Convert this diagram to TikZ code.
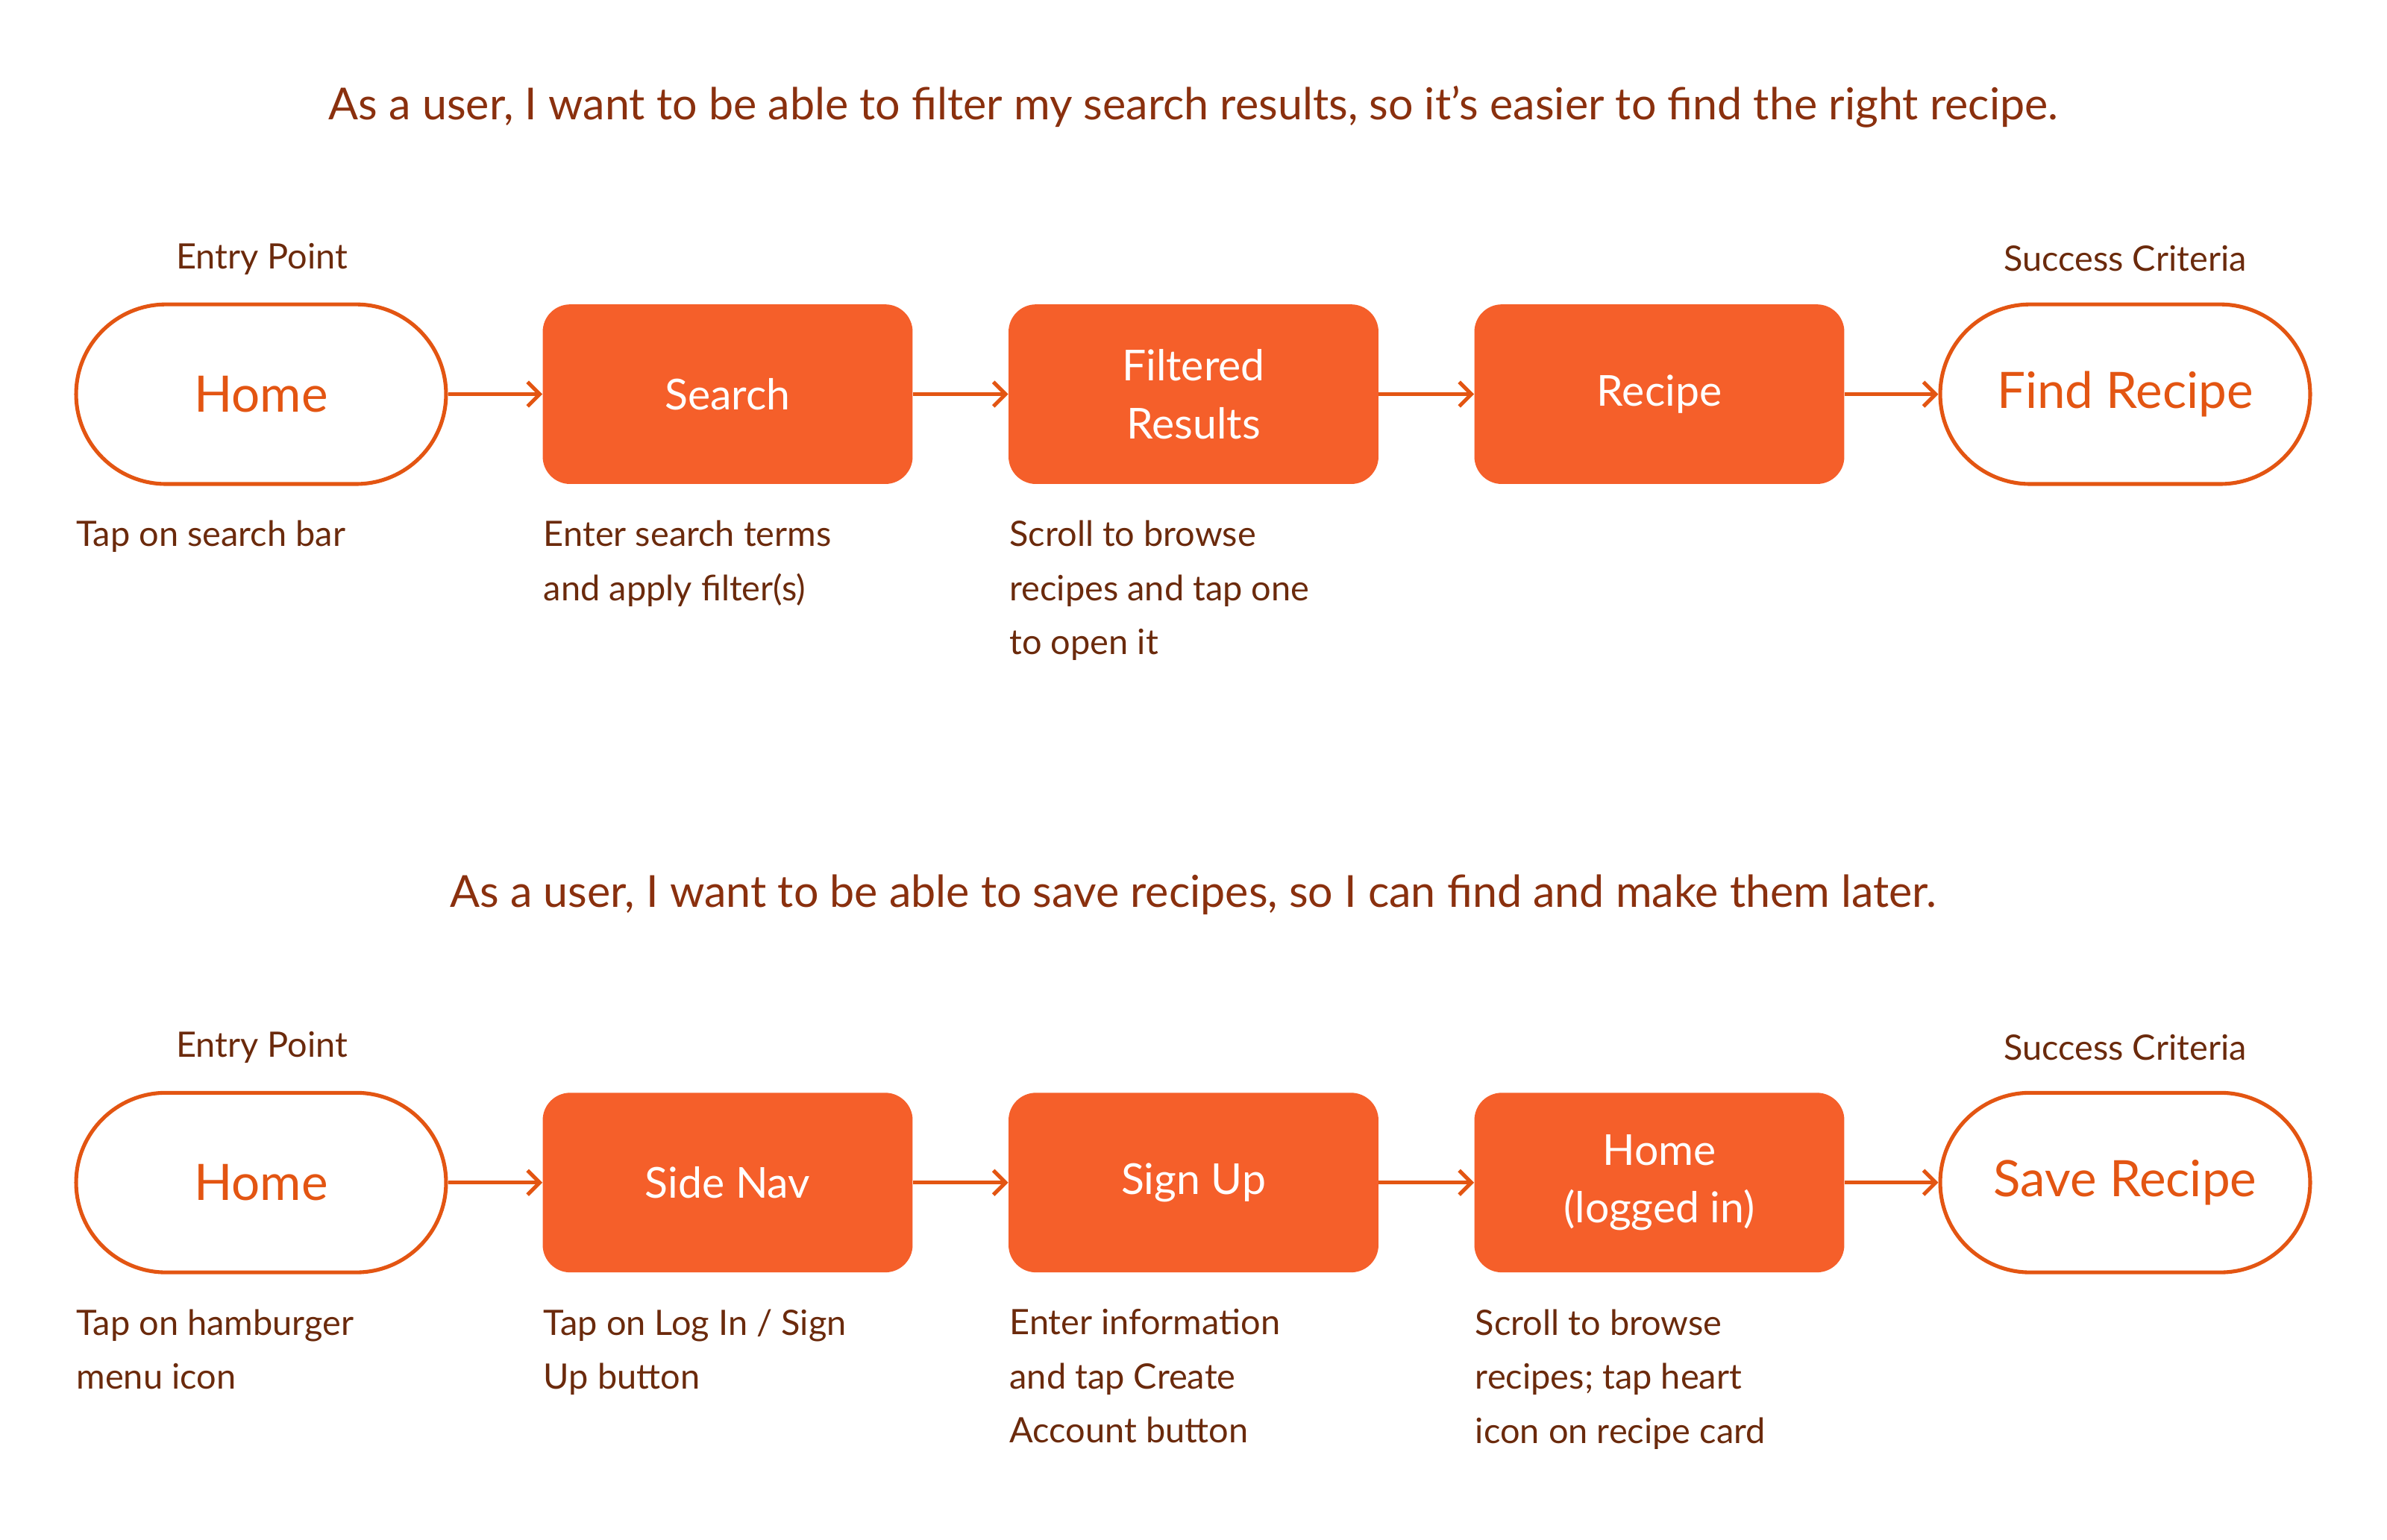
\documentclass[tikz,border=0pt]{standalone}
\usepackage{fontspec}
\setmainfont{Lato}
\usetikzlibrary{arrows.meta}
\definecolor{org}{HTML}{F55F2A}
\definecolor{orgline}{HTML}{E35512}
\definecolor{brn}{HTML}{6B2A0C}
\definecolor{ttl}{HTML}{8A300E}
\tikzset{
 pill/.style={draw=orgline,line width=2.5pt,fill=white,rounded corners=59pt,minimum width=243pt,minimum height=118pt,text=orgline,font=\fontsize{33}{38}\selectfont},
 stepbox/.style={fill=org,rounded corners=18pt,minimum width=243pt,minimum height=118pt,text=white,font=\fontsize{28}{38}\selectfont,align=center},
 desc/.style={anchor=north west,text=brn,font=\fontsize{23}{35.5}\selectfont,align=left,inner sep=0pt},
 lab/.style={text=brn,font=\fontsize{23}{28}\selectfont},
 ttlst/.style={text=ttl,font=\fontsize{29}{34}\selectfont},
 arr/.style={draw=orgline,line width=2.5pt,-{Straight Barb[length=8pt,width=16pt,line width=2.5pt]}}
}
\begin{document}
\begin{tikzpicture}[x=1pt,y=-1pt]
\useasboundingbox (0,0) rectangle (1568,1011.4);
\node[ttlst] (t1) at (784,70) {As a user, I want to be able to filter my search results, so it’s easier to find the right recipe.};
\node[lab] (e1) at (172,170) {Entry Point};
\node[lab] (s1) at (1396,170) {Success Criteria};
\node[pill] (a1) at (171.5,259) {Home};
\node[stepbox] (a2) at (478,259) {Search};
\node[stepbox] (a3) at (784,259) {Filtered\\Results};
\node[stepbox] (a4) at (1090,259) {Recipe};
\node[pill] (a5) at (1396,259) {Find Recipe};
\foreach \i/\j in {a1/a2,a2/a3,a3/a4,a4/a5} \draw[arr] (\i) -- (\j);
\node[desc] (d1) at (50,342) {Tap on search bar};
\node[desc] (d2) at (357,342) {Enter search terms\\and apply filter(s)};
\node[desc] (d3) at (663,342) {Scroll to browse\\recipes and tap one\\to open it};
\node[ttlst] (t2) at (784,588) {As a user, I want to be able to save recipes, so I can find and make them later.};
\node[lab] (e2) at (172,688) {Entry Point};
\node[lab] (s2) at (1396,688) {Success Criteria};
\node[pill] (b1) at (171.5,777) {Home};
\node[stepbox] (b2) at (478,777) {Side Nav};
\node[stepbox] (b3) at (784,777) {Sign Up};
\node[stepbox] (b4) at (1090,777) {Home\\(logged in)};
\node[pill] (b5) at (1396,777) {Save Recipe};
\foreach \i/\j in {b1/b2,b2/b3,b3/b4,b4/b5} \draw[arr] (\i) -- (\j);
\node[desc] (f1) at (50,860) {Tap on hamburger\\menu icon};
\node[desc] (f2) at (357,860) {Tap on Log In / Sign\\Up button};
\node[desc] (f3) at (663,860) {Enter information\\and tap Create\\Account button};
\node[desc] (f4) at (969,860) {Scroll to browse\\recipes; tap heart\\icon on recipe card};
\end{tikzpicture}
\end{document}
